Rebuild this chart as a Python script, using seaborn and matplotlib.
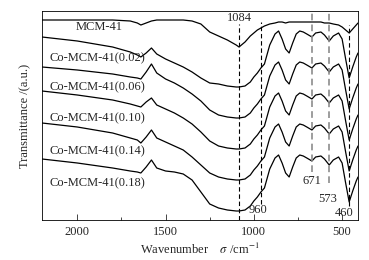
#!/usr/bin/env python3
"""FT-IR spectra of MCM-41 and Co-MCM-41 samples, stacked with offsets."""

import matplotlib
matplotlib.use("Agg")
import matplotlib.pyplot as plt
import pandas as pd
import seaborn as sns

# wavenumber grid shared by all spectra (cm^-1)
wavenumber = [2200, 2000, 1800, 1700, 1660, 1640, 1610, 1580, 1550, 1500,
              1450, 1400, 1350, 1300, 1250, 1200, 1150, 1100, 1084, 1050,
              1020, 1000, 980, 960, 940, 910, 880, 860, 840, 820,
              800, 780, 760, 740, 720, 700, 671, 650, 620, 600,
              573, 550, 520, 500, 480, 460, 440, 420, 410]

# transmittance (a.u., offset stacked)
t_mcm41 = [200, 200, 200, 199, 197, 195, 197, 199, 200, 200,
           200, 200, 199, 196, 188, 184, 180, 175, 173, 178,
           184, 187, 190, 192, 194, 196, 197, 198, 198, 197,
           198, 198, 198, 198, 198, 198, 198, 198, 198, 197,
           197, 196, 195, 193, 190, 187, 191, 195, 197]
t_co002 = [183, 179, 173, 168, 165, 163, 167, 172, 166, 161,
           157, 153, 148, 142, 137, 136, 134, 133, 133, 134,
           138, 143, 147, 152, 156, 175, 186, 189, 181, 171,
           167, 177, 186, 189, 188, 186, 183, 187, 188, 185,
           179, 184, 187, 181, 161, 142, 153, 163, 167]
t_co006 = [153, 150, 146, 143, 142, 141, 148, 156, 147, 141,
           137, 132, 126, 119, 110, 105, 103, 102, 102, 103,
           107, 112, 116, 121, 125, 144, 155, 158, 150, 140,
           136, 146, 155, 158, 157, 155, 152, 156, 157, 154,
           148, 153, 156, 150, 130, 111, 122, 132, 136]
t_co010 = [129, 125, 120, 116, 114, 113, 118, 122, 115, 111,
           107, 102, 96, 88, 79, 74, 72, 71, 71, 72,
           76, 81, 85, 90, 94, 113, 124, 127, 119, 109,
           105, 115, 124, 127, 126, 124, 121, 125, 126, 123,
           117, 122, 125, 119, 99, 80, 91, 101, 105]
t_co014 = [97, 93, 87, 82, 80, 77, 83, 90, 82, 78,
           74, 70, 63, 55, 47, 43, 41, 40, 40, 41,
           45, 50, 54, 59, 63, 82, 93, 96, 88, 78,
           74, 84, 93, 96, 95, 93, 90, 94, 95, 92,
           86, 91, 94, 88, 68, 49, 60, 70, 74]
t_co018 = [61, 57, 52, 49, 48, 47, 53, 60, 52, 49,
           48, 46, 40, 28, 16, 12, 10, 9, 9, 10,
           14, 19, 23, 28, 32, 51, 62, 65, 57, 47,
           43, 53, 62, 65, 64, 62, 59, 63, 64, 61,
           55, 60, 63, 57, 37, 18, 29, 39, 43]

samples = ["MCM-41", "Co-MCM-41(0.02)", "Co-MCM-41(0.06)",
           "Co-MCM-41(0.10)", "Co-MCM-41(0.14)", "Co-MCM-41(0.18)"]
spectra = [t_mcm41, t_co002, t_co006, t_co010, t_co014, t_co018]

sns.set_theme(style="ticks")
plt.rcParams["font.family"] = ["Liberation Serif", "DejaVu Serif"]
plt.rcParams["mathtext.fontset"] = "stix"
plt.rcParams["font.size"] = 9

df = pd.concat(
    [pd.DataFrame({"wavenumber": wavenumber, "T": s, "sample": name})
     for name, s in zip(samples, spectra)],
    ignore_index=True,
)

fig = plt.figure(figsize=(3.69, 2.60), dpi=100)
ax = fig.add_axes([42 / 369, 40 / 260, 316 / 369, 209 / 260])

sns.lineplot(data=df, x="wavenumber", y="T", units="sample", estimator=None,
             sort=False, color="black", lw=0.9, ax=ax, legend=False)

# band marker lines
dash = (0, (4, 2.5))
ax.vlines(1084, 0, 196, colors="black", linestyles=dash, lw=0.8)
ax.vlines(960, 16, 198, colors="black", linestyles=dash, lw=0.8)
ax.vlines(671, 48, 207, colors="0.55", linestyles=dash, lw=1.2)
ax.vlines(573, 37, 207, colors="0.55", linestyles=dash, lw=1.2)
ax.vlines(460, 14, 195, colors="black", linestyles=dash, lw=0.8)

# sample labels
ax.text(2011, 193, samples[0], ha="left", va="center", fontsize=9)
for name, yy in zip(samples[1:], [162, 133, 102, 69, 37]):
    ax.text(2158, yy, name, ha="left", va="center", fontsize=9)

# band labels
ax.text(1084, 202, "1084", ha="center", va="center", fontsize=9)
ax.text(975, 10, "960", ha="center", va="center", fontsize=9)
ax.text(671, 39, "671", ha="center", va="center", fontsize=9)
ax.text(580, 21, "573", ha="center", va="center", fontsize=9)
ax.text(489, 7, "460", ha="center", va="center", fontsize=9)

ax.set_xlim(2200, 410)
ax.set_ylim(0, 209)
ax.set_xticks([2000, 1500, 1000, 500])
ax.set_xticks([1750, 1250, 750], minor=True)
ax.set_yticks([])
ax.tick_params(axis="x", which="major", direction="in", length=4, width=0.6,
               labelsize=9, pad=4)
ax.tick_params(axis="x", which="minor", direction="in", length=2, width=0.6)
for sp in ax.spines.values():
    sp.set_visible(True)
    sp.set_linewidth(0.6)
    sp.set_color("black")

ax.set_xlabel(r"Wavenumber    $\sigma$ /cm$^{-1}$", fontsize=9, labelpad=3)
ax.set_ylabel("Transmittance /(a.u.)", fontsize=9, labelpad=8)

fig.savefig("out.png", dpi=100)
